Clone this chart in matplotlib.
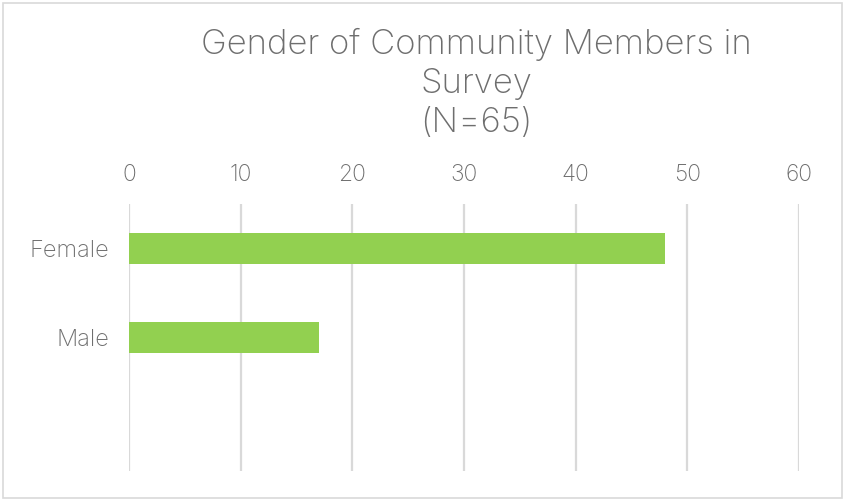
import matplotlib.pyplot as plt
from matplotlib.patches import Rectangle

# survey counts, Female + Male = 65
categories = ['Female', 'Male', '']
counts = [48, 17, 0]
xticks = [0, 10, 20, 30, 40, 50, 60]
title = 'Gender of Community Members in\nSurvey\n(N=65)'

bar_color = '#92d050'
grid_color = '#d9d9d9'
text_color = '#6e6e6e'
font = 'Inter'

fig = plt.figure(figsize=(8.44, 5.0), dpi=100)
ax = fig.add_axes([129 / 844, 29 / 500, 670 / 844, 267 / 500])

ypos = list(range(len(categories)))
ax.barh(ypos[:2], counts[:2], height=0.35, color=bar_color, zorder=3)

ax.set_xlim(0, 60)
ax.set_ylim(len(categories) - 0.5, -0.5)
ax.set_xticks(xticks)
ax.xaxis.tick_top()
ax.set_yticks(ypos)
ax.set_yticklabels(categories)
ax.tick_params(axis='x', length=0, pad=13, labelsize=16.5, labelcolor=text_color)
ax.tick_params(axis='y', length=0, pad=14, labelsize=17, labelcolor=text_color)
for lab in ax.get_xticklabels() + ax.get_yticklabels():
    lab.set_fontfamily(font)
    lab.set_fontweight('light')

ax.grid(axis='x', color=grid_color, linewidth=1.6, zorder=0)
for s in ax.spines.values():
    s.set_visible(False)

fig.text(476 / 844, 1 - 83 / 500, title, ha='center', va='center',
         fontsize=25, color=text_color, family=font, fontweight='light',
         linespacing=1.28)

# light frame round the whole chart
fig.patches.append(Rectangle((3 / 844, 2 / 500), 839 / 844, 495 / 500,
                             transform=fig.transFigure, fill=False,
                             edgecolor=grid_color, linewidth=1.2))

fig.savefig('out.png', dpi=100)
